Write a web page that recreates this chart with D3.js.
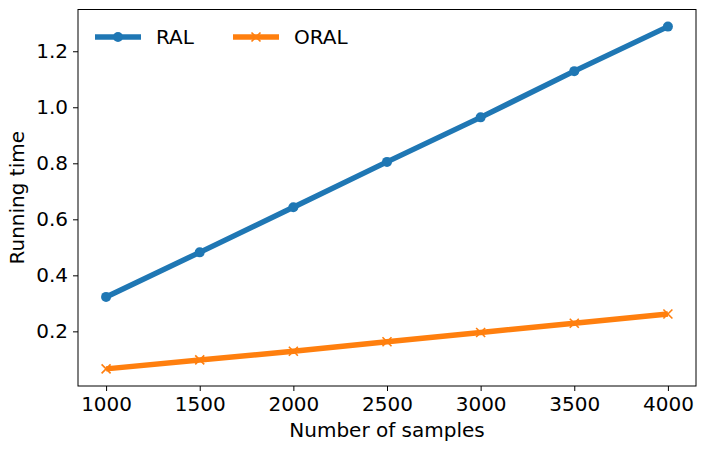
<!DOCTYPE html>
<html>
<head>
<meta charset="utf-8">
<script src="https://cdn.jsdelivr.net/npm/d3@7"></script>
<style>
  body { margin: 0; background: #fff; }
  svg text { font-family: "DejaVu Sans", sans-serif; fill: #000; }
</style>
</head>
<body>
<svg id="chart" width="706" height="452"></svg>
<script>
// samples on the x axis
const samples = [1000, 1500, 2000, 2500, 3000, 3500, 4000];
// running time per method
const ralTimes = [0.323, 0.482, 0.643, 0.805, 0.964, 1.129, 1.288];
const oralTimes = [0.066, 0.098, 0.129, 0.163, 0.196, 0.229, 0.262];
const xTicks = [1000, 1500, 2000, 2500, 3000, 3500, 4000];
const yTicks = [0.2, 0.4, 0.6, 0.8, 1.0, 1.2];

const svg = d3.select("#chart");
const margin = { left: 78, right: 10, top: 9.5, bottom: 66 };
const width = 706 - margin.left - margin.right;
const height = 452 - margin.top - margin.bottom;

// matplotlib style 5% padding around the data
const pad = (lo, hi) => [lo - (hi - lo) * 0.05, hi + (hi - lo) * 0.05];
const allY = ralTimes.concat(oralTimes);

const x = d3.scaleLinear()
  .domain(pad(d3.min(samples), d3.max(samples)))
  .range([0, width]);

const y = d3.scaleLinear()
  .domain(pad(d3.min(allY), d3.max(allY)))
  .range([height, 0]);

const g = svg.append("g")
  .attr("transform", `translate(${margin.left},${margin.top})`);

// axes
const xAxis = g.append("g")
  .attr("transform", `translate(0,${height})`)
  .call(d3.axisBottom(x).tickValues(xTicks).tickSize(5).tickPadding(6).tickFormat(d3.format("d")));

const yAxis = g.append("g")
  .call(d3.axisLeft(y).tickValues(yTicks).tickSize(5).tickPadding(5).tickFormat(d3.format(".1f")));

[xAxis, yAxis].forEach(a => {
  a.select(".domain").remove();
  a.selectAll(".tick line").attr("stroke", "#000").attr("stroke-width", 1);
  a.selectAll(".tick text")
    .style("font-family", "DejaVu Sans, sans-serif")
    .style("font-size", "20px")
    .attr("fill", "#000");
});

// frame
g.append("rect")
  .attr("x", 0).attr("y", 0)
  .attr("width", width).attr("height", height)
  .attr("fill", "none")
  .attr("stroke", "#000")
  .attr("stroke-width", 1);

const series = [
  { name: "RAL", values: ralTimes, color: "#1f77b4", marker: "circle" },
  { name: "ORAL", values: oralTimes, color: "#ff7f0e", marker: "x" }
];

const line = d3.line()
  .x((d, i) => x(samples[i]))
  .y(d => y(d));

function drawMarker(sel, s, cx, cy) {
  if (s.marker === "circle") {
    sel.append("circle")
      .attr("cx", cx).attr("cy", cy).attr("r", 5)
      .attr("fill", s.color);
  } else {
    const r = 4.5;
    sel.append("path")
      .attr("d", `M${cx - r},${cy - r}L${cx + r},${cy + r}M${cx - r},${cy + r}L${cx + r},${cy - r}`)
      .attr("stroke", s.color)
      .attr("stroke-width", 1.6)
      .attr("fill", "none");
  }
}

series.forEach(s => {
  g.append("path")
    .datum(s.values)
    .attr("d", line)
    .attr("fill", "none")
    .attr("stroke", s.color)
    .attr("stroke-width", 5.5)
    .attr("stroke-linejoin", "round");
  const mg = g.append("g");
  s.values.forEach((v, i) => drawMarker(mg, s, x(samples[i]), y(v)));
});

// legend
const legend = svg.append("g");
const legendX = [95, 233];
series.forEach((s, i) => {
  const lx = legendX[i];
  const ly = 37;
  legend.append("line")
    .attr("x1", lx).attr("x2", lx + 46)
    .attr("y1", ly).attr("y2", ly)
    .attr("stroke", s.color)
    .attr("stroke-width", 5.5);
  drawMarker(legend, s, lx + 23, ly);
  legend.append("text")
    .attr("x", lx + 61)
    .attr("y", ly)
    .attr("dy", "0.36em")
    .style("font-size", "20px")
    .text(s.name);
});

// axis titles
svg.append("text")
  .attr("x", margin.left + width / 2)
  .attr("y", 437)
  .attr("text-anchor", "middle")
  .style("font-size", "20px")
  .text("Number of samples");

svg.append("text")
  .attr("transform", `translate(24,${margin.top + height / 2}) rotate(-90)`)
  .attr("text-anchor", "middle")
  .style("font-size", "20px")
  .text("Running time");
</script>
</body>
</html>
